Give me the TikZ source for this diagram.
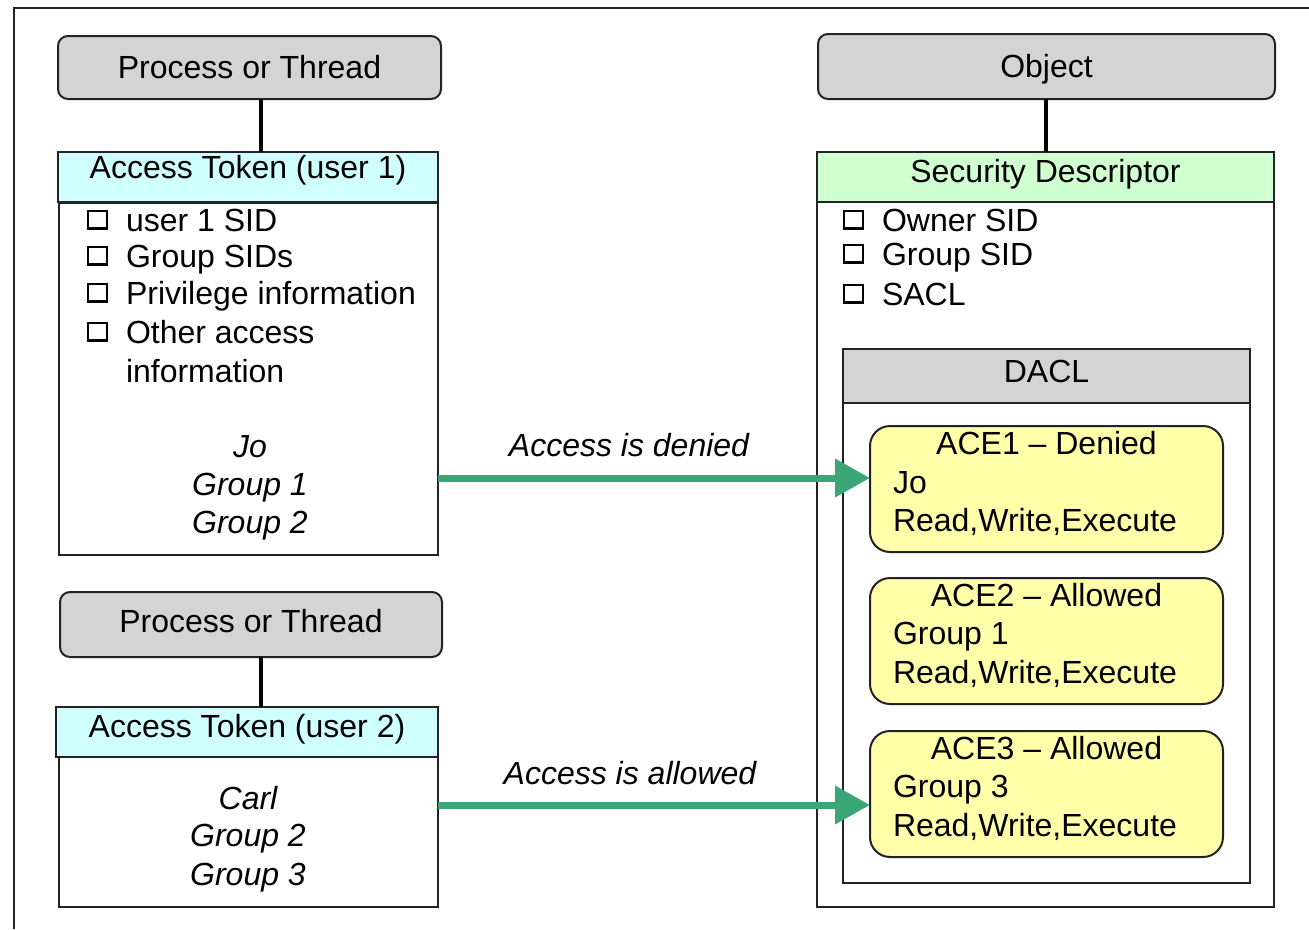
\documentclass[tikz,border=0pt]{standalone}
\usepackage{fontspec}
\setmainfont{Liberation Sans}
\usetikzlibrary{arrows.meta,calc}
\definecolor{procgray}{RGB}{212,212,212}
\definecolor{tokcyan}{RGB}{208,255,255}
\definecolor{sdgreen}{RGB}{208,255,208}
\definecolor{aceyellow}{RGB}{255,255,170}
\definecolor{arrgreen}{RGB}{58,166,118}
\definecolor{edgec}{RGB}{35,35,35}
\begin{document}
\begin{tikzpicture}[x=1pt,y=-1pt,
  every node/.style={font=\fontsize{32}{38}\selectfont, text=black},
  box/.style={draw=edgec, line width=2pt, inner sep=0pt, outer sep=0pt, anchor=north west, text height=22.9pt},
  procbox/.style={box, fill=procgray, rounded corners=10pt},
  acebox/.style={box, fill=aceyellow, rounded corners=20pt},
  txt/.style={inner sep=0pt, outer sep=0pt, text height=22.9pt, text depth=0pt},
  itxt/.style={txt, font=\fontsize{32}{38}\selectfont\itshape},
  conn/.style={draw=black, line width=4pt},
  garrow/.style={draw=arrgreen, line width=7pt, -{Triangle[length=35pt,width=37pt]}, arrgreen},
  chk/.style={draw=black, line width=1.5pt}
]
\useasboundingbox (0,0) rectangle (1309,929);
% outer frame
\draw[edgec, line width=2pt] (14,929) -- (14,8) -- (1309,8);

% ---------- left top ----------
\node[procbox, minimum width=383, minimum height=63, text depth=1pt] (p1) at (58,36) {Process or Thread};
\node[box, fill=white, minimum width=379, minimum height=352] (t1b) at (59,203) {};
\node[box, fill=tokcyan, minimum width=380, minimum height=50, text depth=20pt] (t1h) at (58,152) {Access Token (user 1)};
\coordinate (c1) at (261,0);
\draw[conn] (p1.south -| c1) -- (t1h.north -| c1);

\foreach \yy in {220,256,293,332} {
  \draw[chk] (88,{\yy-9}) rectangle (107,{\yy+9});
  \draw[black, line width=3pt] (87.25,{\yy+8.5}) -- (107.75,{\yy+8.5});
}
\node[txt, anchor=west] (i1) at (126,220) {user 1 SID};
\node[txt, anchor=west] (i2) at (126,256) {Group SIDs};
\node[txt, anchor=west] (i3) at (126,293) {Privilege information};
\node[txt, anchor=west] (i4) at (126,332) {Other access};
\node[txt, anchor=west] (i5) at (126,371) {information};
\node[itxt] (u1a) at (250,446) {Jo};
\node[itxt] (u1b) at (250,484) {Group 1};
\node[itxt] (u1c) at (250,522) {Group 2};

% ---------- left bottom ----------
\node[procbox, minimum width=382, minimum height=65, text depth=7pt] (p2) at (60,592) {Process or Thread};
\node[box, fill=white, minimum width=379, minimum height=150] (t2b) at (59,757) {};
\node[box, fill=tokcyan, minimum width=382, minimum height=50, text depth=12pt] (t2h) at (56,707) {Access Token (user 2)};
\draw[conn] (p2.south -| c1) -- (t2h.north -| c1);
\node[itxt] (u2a) at (248,798) {Carl};
\node[itxt] (u2b) at (248,835) {Group 2};
\node[itxt] (u2c) at (248,874) {Group 3};

% ---------- right ----------
\node[procbox, minimum width=457, minimum height=65, text depth=0pt] (obj) at (818,34) {Object};
\node[box, fill=white, minimum width=457, minimum height=705] (sdb) at (817,202) {};
\node[box, fill=sdgreen, minimum width=457, minimum height=50, text depth=12pt] (sdh) at (817,152) {Security Descriptor};
\coordinate (c2) at (1046,0);
\draw[conn] (obj.south -| c2) -- (sdh.north -| c2);

\foreach \yy in {220,254,294} {
  \draw[chk] (844,{\yy-9}) rectangle (863,{\yy+9});
  \draw[black, line width=3pt] (843.25,{\yy+8.5}) -- (863.75,{\yy+8.5});
}
\node[txt, anchor=west] (o1) at (882,220) {Owner SID};
\node[txt, anchor=west] (o2) at (882,254) {Group SID};
\node[txt, anchor=west] (o3) at (882,294) {SACL};

\node[box, fill=white, minimum width=407, minimum height=480] (dab) at (843,403) {};
\node[box, fill=procgray, minimum width=407, minimum height=54, text depth=10pt] (dah) at (843,349) {DACL};

\node[acebox, minimum width=353, minimum height=126] (ace1) at (870,426) {};
\node[acebox, minimum width=353, minimum height=126] (ace2) at (870,578) {};
\node[acebox, minimum width=353, minimum height=126] (ace3) at (870,731) {};

\node[txt] (a1t) at ($(ace1.north)+(0,17)$) {ACE1 – Denied};
\node[txt, anchor=west] (a1u) at ($(ace1.north west)+(23,56)$) {Jo};
\node[txt, anchor=west] (a1r) at ($(ace1.north west)+(23,94)$) {Read,Write,Execute};
\node[txt] (a2t) at ($(ace2.north)+(0,17)$) {ACE2 – Allowed};
\node[txt, anchor=west] (a2u) at ($(ace2.north west)+(23,55)$) {Group 1};
\node[txt, anchor=west] (a2r) at ($(ace2.north west)+(23,94)$) {Read,Write,Execute};
\node[txt] (a3t) at ($(ace3.north)+(0,17)$) {ACE3 – Allowed};
\node[txt, anchor=west] (a3u) at ($(ace3.north west)+(23,55)$) {Group 3};
\node[txt, anchor=west] (a3r) at ($(ace3.north west)+(23,94)$) {Read,Write,Execute};

% ---------- arrows ----------
\coordinate (y1) at (0,478);
\coordinate (y2) at (0,805);
\draw[garrow] (t1b.east |- y1) -- (ace1.west |- y1);
\draw[garrow] (t2b.east |- y2) -- (ace3.west |- y2);
\node[itxt] (l1) at (629,445) {Access is denied};
\node[itxt] (l2) at (630,773) {Access is allowed};
\end{tikzpicture}
\end{document}
